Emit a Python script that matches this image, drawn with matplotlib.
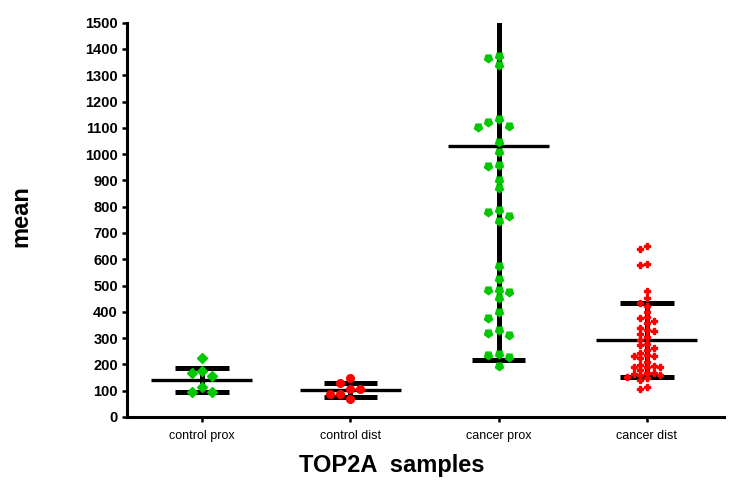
import matplotlib
matplotlib.use("Agg")
import matplotlib.pyplot as plt
import numpy as np

plt.rcParams["font.family"] = ["Liberation Sans", "DejaVu Sans"]

# ── Data ────────────────────────────────────────────────────────────────────
groups = ["control prox", "control dist", "cancer prox", "cancer dist"]

control_prox = [223, 174, 169, 156, 115, 97, 97]
control_dist = [150, 131, 106, 106, 87, 87, 68]
cancer_prox = [1374, 1364, 1339, 1132, 1121, 1107, 1104, 1047, 1007, 958, 955,
               901, 870, 787, 781, 765, 747, 576, 525, 483, 483, 474, 452, 401,
               375, 331, 321, 312, 240, 236, 229, 195]
cancer_dist = [650, 638, 582, 578, 479, 452, 435, 422, 401, 379, 375, 366, 356,
               340, 331, 328, 316, 305, 293, 278, 274, 261, 255, 245, 236, 233,
               232, 223, 210, 198, 194, 191, 191, 191, 180, 166, 166, 163, 160,
               160, 152, 147, 141, 115, 105]

means = [141, 103, 1031, 293]
sds = [47, 26.5, 814, 142]

GREEN = "#00c800"
RED = "#ff0000"

# ── Helpers ─────────────────────────────────────────────────────────────────

def swarm(values, step, thr):
    """Simple column swarm: spread points sideways when values are close."""
    order = np.argsort(values)[::-1]
    placed = []  # (slot, value)
    slots = np.zeros(len(values))
    cands = [0]
    for k in range(1, 12):
        cands += [-k, k]
    for i in order:
        v = values[i]
        for c in cands:
            if all(not (s == c and abs(pv - v) < thr) for s, pv in placed):
                placed.append((c, v))
                slots[i] = c
                break
    return slots * step


styles = [
    dict(data=control_prox, color=GREEN, marker="D", ms=5.0, step=0.068, thr=30),
    dict(data=control_dist, color=RED, marker="o", ms=5.5, step=0.068, thr=30),
    dict(data=cancer_prox, color=GREEN, marker=(5, 0, 180), ms=6.0, step=0.068, thr=30),
    dict(data=cancer_dist, color=RED, marker="P", ms=4.5, step=0.045, thr=18),
]

# ── Plot ────────────────────────────────────────────────────────────────────

fig = plt.figure(figsize=(7.36, 4.87), dpi=100)
ax = fig.add_axes([127 / 736, 1 - 417 / 487, (724 - 127) / 736, (417 - 22.7) / 487])

for i, st in enumerate(styles):
    vals = np.array(st["data"], dtype=float)
    xs = i + swarm(vals, st["step"], st["thr"])
    m, s = means[i], sds[i]
    # mean line
    ax.plot([i - 0.34, i + 0.34], [m, m], color="black", lw=2.4, zorder=2,
            solid_capstyle="butt")
    # SD bar + caps
    ax.plot([i, i], [m - s, m + s], color="black", lw=3.6, zorder=2,
            solid_capstyle="butt")
    for yv in (m - s, m + s):
        ax.plot([i - 0.18, i + 0.18], [yv, yv], color="black", lw=3.6,
                zorder=2, solid_capstyle="butt")
    ax.plot(xs, vals, linestyle="none", marker=st["marker"], ms=st["ms"],
            color=st["color"], mec=st["color"], zorder=3)

ax.set_xlim(-0.505, 3.52)
ax.set_ylim(0, 1500)
ax.set_yticks(np.arange(0, 1501, 100))
ax.set_xticks(range(len(groups)))
ax.set_xticklabels(groups, fontsize=9)

for lbl in ax.get_yticklabels():
    lbl.set_fontweight("bold")
    lbl.set_fontsize(10.5)

for side in ("top", "right"):
    ax.spines[side].set_visible(False)
for side in ("left", "bottom"):
    ax.spines[side].set_linewidth(2.2)

ax.tick_params(axis="both", direction="out", length=3.6, width=1.8, pad=3)
ax.tick_params(axis="x", pad=6)

ax.set_ylabel("mean", fontsize=17, fontweight="bold")
ax.yaxis.set_label_coords(-0.159, 0.51)
ax.set_xlabel("TOP2A  samples", fontsize=17, fontweight="bold")
ax.xaxis.set_label_coords(0.444, -0.094)

fig.savefig("out.png", dpi=100)
